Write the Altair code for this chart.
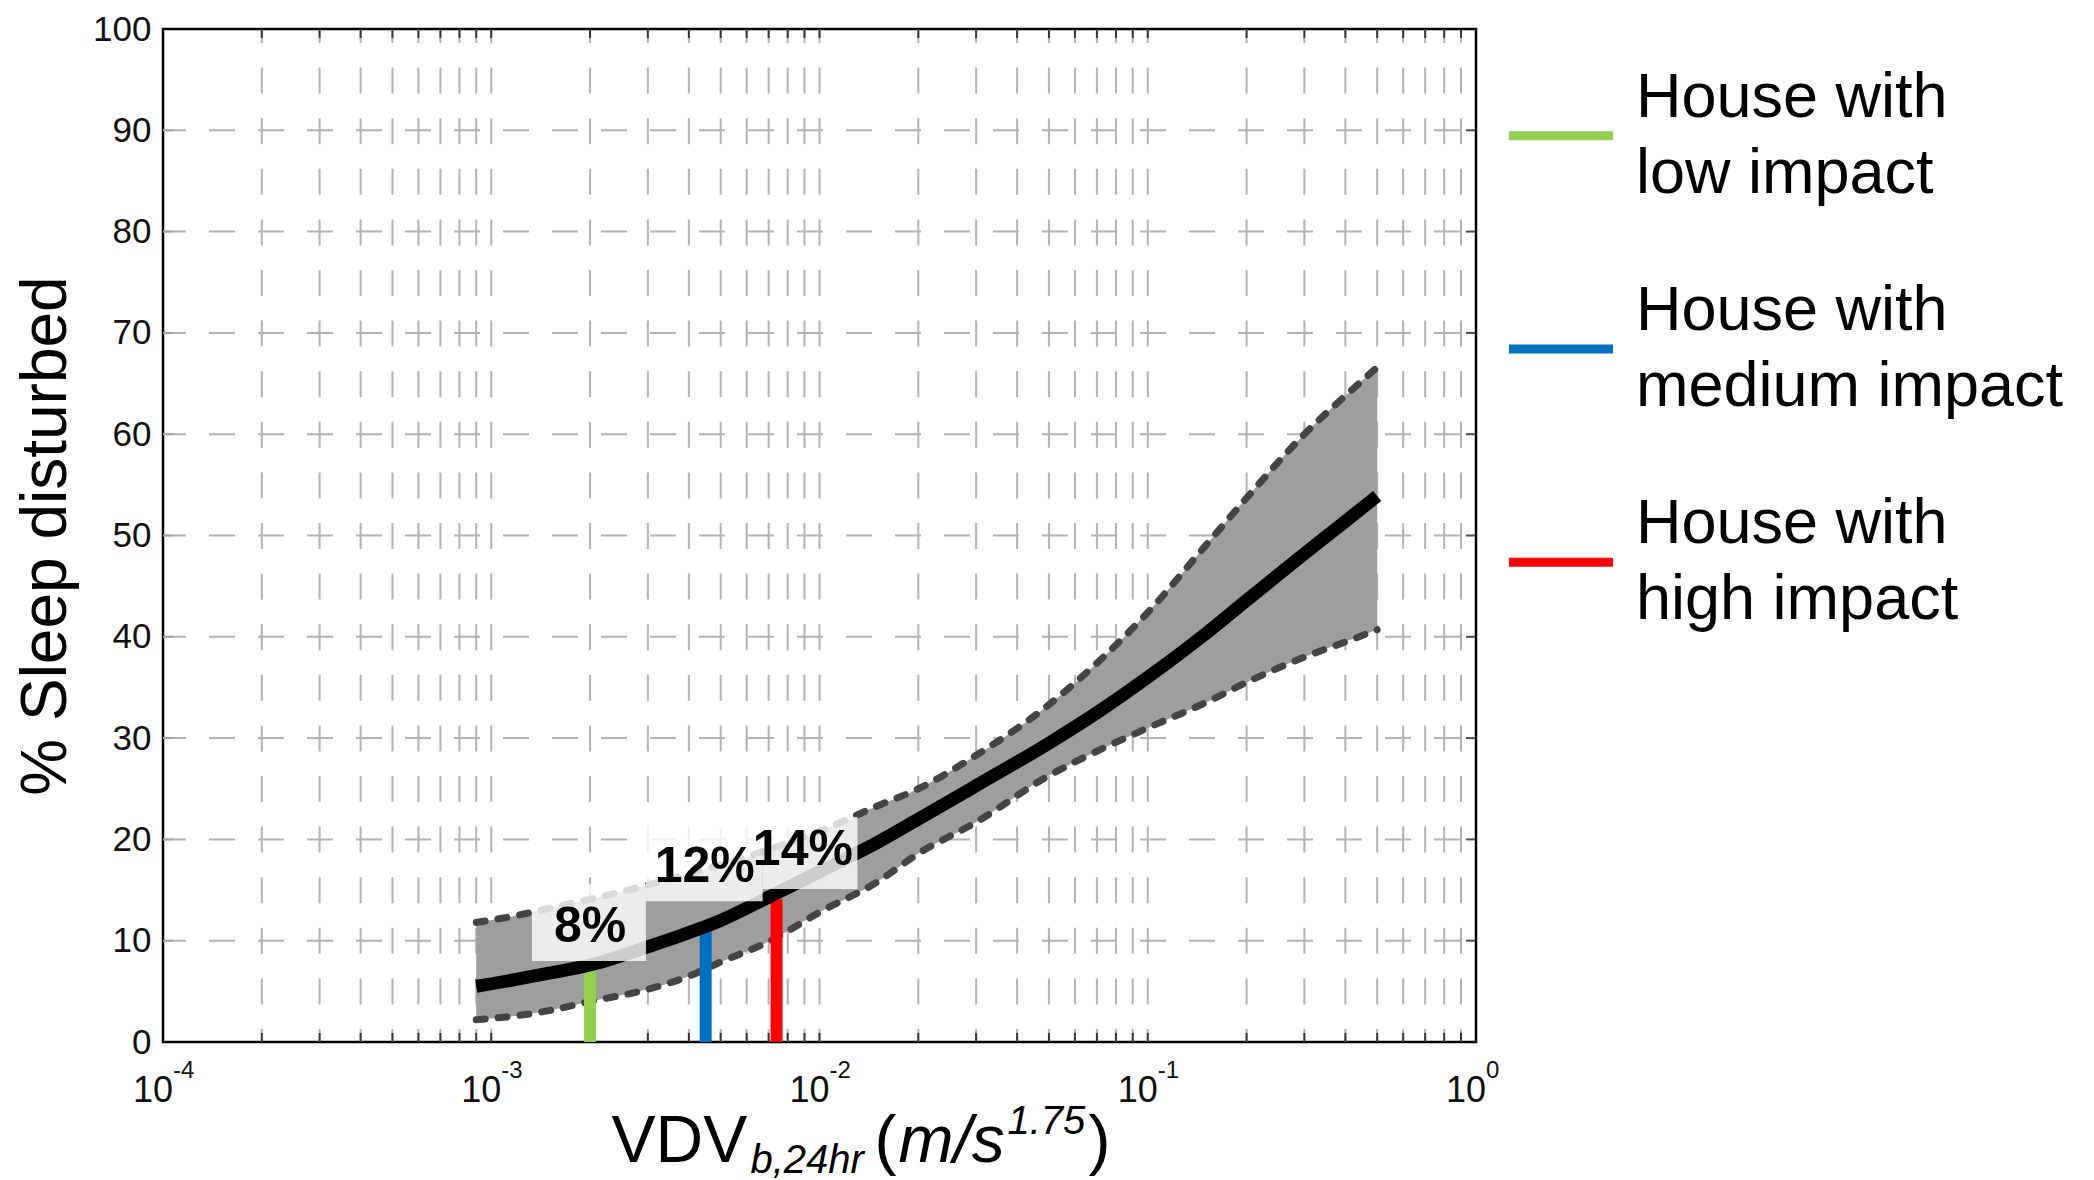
import altair as alt
import pandas as pd

# ---------------- data ----------------
vdv = [9e-4, 1.2e-3, 1.5e-3, 2e-3, 3e-3, 4e-3, 5e-3, 7e-3, 1e-2, 1.5e-2,
       2e-2, 3e-2, 5e-2, 7e-2, 0.1, 0.15, 0.2, 0.3, 0.4, 0.5]
mean_pct = [5.5, 6.2, 6.8, 7.6, 9.4, 10.8, 12.0, 14.3, 16.8, 19.7,
            22.0, 25.3, 29.5, 32.5, 36.0, 40.3, 43.6, 48.2, 51.4, 53.9]
upper_pct = [11.8, 12.5, 13.2, 14.1, 15.5, 16.6, 17.5, 19.0, 20.8, 23.3,
             25.0, 28.3, 33.3, 37.4, 42.4, 49.0, 53.7, 60.0, 63.8, 66.6]
lower_pct = [2.2, 2.6, 3.1, 4.0, 5.2, 6.5, 7.9, 9.9, 12.8, 15.8,
             18.6, 21.7, 26.3, 28.7, 31.0, 33.5, 35.5, 38.0, 39.5, 40.7]

houses = ["low", "medium", "high"]
house_vdv = [2.0e-3, 4.5e-3, 7.4e-3]
house_top = [7.1, 11.3, 14.1]
house_colors = ["#92d050", "#0070c0", "#ff0000"]
house_labels = ["House with\nlow impact", "House with\nmedium impact",
                "House with\nhigh impact"]

ann_text = ["8%", "12%", "14%"]
ann_x = [2.0e-3, 4.47e-3, 8.9e-3]
ann_y = [9.9, 15.8, 17.5]
box_x1 = [1.33e-3, 2.96e-3, 6.71e-3]
box_x2 = [2.96e-3, 6.71e-3, 1.305e-2]
box_y1 = [8.0, 13.9, 15.1]
box_y2 = [15.6, 21.9, 22.2]

decades = [1e-4, 1e-3, 1e-2, 1e-1, 1.0]
decade_base = ["10", "10", "10", "10", "10"]
decade_exp = ["-4", "-3", "-2", "-1", "0"]
y_ticks = [0, 10, 20, 30, 40, 50, 60, 70, 80, 90, 100]
grid_y = [10, 20, 30, 40, 50, 60, 70, 80, 90]
grid_x = [k * 10.0 ** e for e in range(-4, 0) for k in range(1, 10)][1:]

X_MIN, X_MAX = 1e-4, 1.0
Y_MIN, Y_MAX = 0, 100

title_pieces = ["VDV", "b,24hr", "(", "m/s", "1.75", ")"]

FONT = "Liberation Sans"

# ---------------- frames ----------------
curve_df = pd.DataFrame({"vdv": vdv, "mean": mean_pct,
                         "upper": upper_pct, "lower": lower_pct})
house_df = pd.DataFrame({"house": houses, "vdv": house_vdv, "top": house_top,
                         "base": [Y_MIN] * 3,
                         "color": house_colors, "label": house_labels})
ann_df = pd.DataFrame({"t": ann_text, "x": ann_x, "y": ann_y,
                       "x1": box_x1, "x2": box_x2, "y1": box_y1, "y2": box_y2})
dec_df = pd.DataFrame({"v": decades, "base": decade_base, "exp": decade_exp,
                       "y0": [Y_MIN] * 5})
gx_df = pd.DataFrame({"v": grid_x, "lo": Y_MIN, "hi": Y_MAX})
gy_df = pd.DataFrame({"v": grid_y, "xl": X_MIN, "xr": X_MAX})

xs = alt.Scale(type="log", domain=[X_MIN, X_MAX], nice=False)
ys = alt.Scale(domain=[Y_MIN, Y_MAX], nice=False, zero=False)

y_axis = alt.Axis(values=y_ticks, labelFontSize=35, labelFont=FONT,
                  labelColor="#111111", ticks=False, domain=False,
                  grid=False, labelPadding=12,
                  title="% Sleep disturbed", titleFontSize=64,
                  titleFont=FONT, titleFontWeight="normal",
                  titleColor="black", titlePadding=14)


def X(f):
    return alt.X(f, type="quantitative", scale=xs, axis=None)


def Y(f):
    return alt.Y(f, type="quantitative", scale=ys, axis=y_axis)


GRID = "#b3b3b3"

vgrid = alt.Chart(gx_df).mark_rule(
    color=GRID, strokeWidth=2, strokeDash=[26, 24.6], strokeDashOffset=13
).encode(x=X("v"), y=Y("lo"), y2="hi:Q")

hgrid = alt.Chart(gy_df).mark_rule(
    color=GRID, strokeWidth=2, strokeDash=[26, 23], strokeDashOffset=3
).encode(y=Y("v"), x=X("xl"), x2="xr:Q")

tick_bottom = alt.Chart(gx_df).mark_tick(
    orient="vertical", size=9, thickness=2, yOffset=-4.5, color="black"
).encode(x=X("v"), y=Y("lo"))
tick_top = alt.Chart(gx_df).mark_tick(
    orient="vertical", size=9, thickness=2, yOffset=4.5, color="black"
).encode(x=X("v"), y=Y("hi"))
tick_left = alt.Chart(gy_df).mark_tick(
    orient="horizontal", size=10, thickness=2, xOffset=5, color="#999999"
).encode(y=Y("v"), x=X("xl"))
tick_right = alt.Chart(gy_df).mark_tick(
    orient="horizontal", size=10, thickness=2, xOffset=-5, color="black"
).encode(y=Y("v"), x=X("xr"))

band = alt.Chart(curve_df).mark_area(
    color="#9e9e9e", opacity=1, interpolate="monotone"
).encode(x=X("vdv"), y=Y("lower"), y2="upper:Q")

band_up = alt.Chart(curve_df).mark_line(
    color="#444444", strokeWidth=7, strokeDash=[9, 13], strokeCap="round",
    interpolate="monotone"
).encode(x=X("vdv"), y=Y("upper"))
band_lo = alt.Chart(curve_df).mark_line(
    color="#444444", strokeWidth=7, strokeDash=[9, 13], strokeCap="round",
    interpolate="monotone"
).encode(x=X("vdv"), y=Y("lower"))

bars = alt.Chart(house_df).mark_rule(strokeWidth=12).encode(
    x=X("vdv"), y=Y("base"), y2="top:Q",
    color=alt.Color("color:N", scale=None))

curve = alt.Chart(curve_df).mark_line(
    color="black", strokeWidth=13, interpolate="monotone"
).encode(x=X("vdv"), y=Y("mean"))

boxes = alt.Chart(ann_df).mark_rect(color="white", opacity=0.8).encode(
    x=X("x1"), x2="x2:Q", y=Y("y1"), y2="y2:Q")
ann = alt.Chart(ann_df).mark_text(
    font=FONT, fontSize=50, fontWeight="bold", align="center",
    baseline="alphabetic", color="black"
).encode(x=X("x"), y=Y("y"), text="t:N")

dec_base = alt.Chart(dec_df).mark_text(
    font=FONT, fontSize=36, align="right", baseline="alphabetic",
    dx=10, dy=60, color="#111111"
).encode(x=X("v"), y=Y("y0"), text="base:N")
dec_exp = alt.Chart(dec_df).mark_text(
    font=FONT, fontSize=24, align="left", baseline="alphabetic",
    dx=10, dy=36, color="#111111"
).encode(x=X("v"), y=Y("y0"), text="exp:N")


def piece(i, dx, dy, size, italic):
    df = pd.DataFrame({"t": [title_pieces[i]], "x": [decades[2]],
                       "y": [Y_MIN]})
    return alt.Chart(df).mark_text(
        font=FONT, fontSize=size, align="left", baseline="alphabetic",
        fontStyle="italic" if italic else "normal", dx=dx, dy=dy,
        color="black"
    ).encode(x=X("x"), y=Y("y"), text="t:N")


title_layers = [
    piece(0, -208, 120, 66, False),
    piece(1, -69, 131, 40, True),
    piece(2, 55, 120, 66, False),
    piece(3, 79, 120, 66, True),
    piece(4, 188, 92, 40, True),
    piece(5, 269, 120, 66, False),
]

main = alt.layer(
    hgrid, vgrid, tick_bottom, tick_top, tick_left, tick_right,
    band, band_up, band_lo, bars, curve, boxes, ann, dec_base, dec_exp,
    *title_layers
).properties(
    width=1313, height=1013,
    view=alt.ViewBackground(stroke="black", strokeWidth=2.5)
)

# ---------------- legend panel ----------------
ly = alt.Y("house:N", sort=houses,
           scale=alt.Scale(type="point", padding=0.5), axis=None)
leg_line = alt.Chart(house_df).mark_rule(strokeWidth=9).encode(
    y=ly, x=alt.value(0), x2=alt.value(104),
    color=alt.Color("color:N", scale=None))
leg_text = alt.Chart(house_df).mark_text(
    font=FONT, fontSize=63, align="left", baseline="middle",
    lineBreak="\n", lineHeight=76, dy=-38, color="black"
).encode(y=ly, x=alt.value(127), text="label:N")
legend = alt.layer(leg_line, leg_text).properties(
    width=560, height=640,
    view=alt.ViewBackground(strokeOpacity=0)
)

chart = alt.hconcat(main, legend, spacing=33, bounds="flush").properties(
    padding={"left": 5, "top": 2, "right": 0, "bottom": 0}
).configure(font=FONT).configure_view(strokeWidth=0)

chart.save("out.html", embed_options={"renderer": "svg", "actions": False})
